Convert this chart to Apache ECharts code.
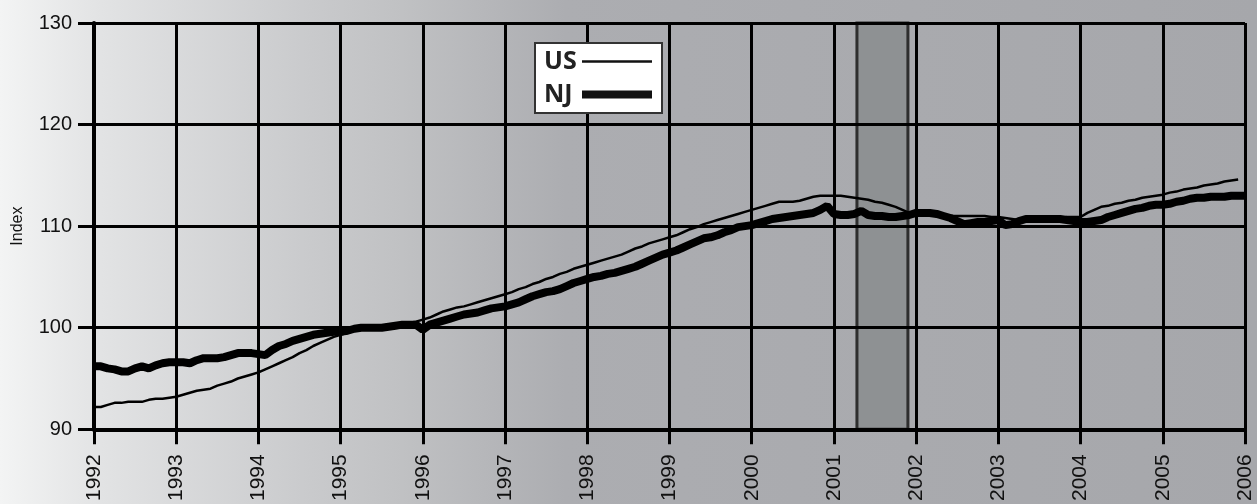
<!DOCTYPE html>
<html>
<head>
<meta charset="utf-8">
<script src="https://cdn.jsdelivr.net/npm/echarts@6/dist/echarts.min.js"></script>
<style>
  html, body { margin: 0; padding: 0; }
  #chart { width: 1257px; height: 504px; }
</style>
</head>
<body>
<div id="chart"></div>
<script>
// monthly index values, Jan 1992 onward
var usByYear = [
  [92.2, 92.2, 92.4, 92.6, 92.6, 92.7, 92.7, 92.7, 92.9, 93.0, 93.0, 93.1], // 1992
  [93.2, 93.4, 93.6, 93.8, 93.9, 94.0, 94.3, 94.5, 94.7, 95.0, 95.2, 95.4], // 1993
  [95.6, 95.9, 96.2, 96.5, 96.8, 97.1, 97.5, 97.8, 98.2, 98.5, 98.8, 99.1], // 1994
  [99.3, 99.5, 99.7, 99.9, 100.0, 100.1, 100.2, 100.3, 100.3, 100.4, 100.5, 100.6], // 1995
  [100.8, 101.0, 101.3, 101.6, 101.8, 102.0, 102.1, 102.3, 102.5, 102.7, 102.9, 103.1], // 1996
  [103.3, 103.5, 103.8, 104.0, 104.3, 104.5, 104.8, 105.0, 105.3, 105.5, 105.8, 106.0], // 1997
  [106.2, 106.4, 106.6, 106.8, 107.0, 107.2, 107.5, 107.8, 108.0, 108.3, 108.5, 108.7], // 1998
  [108.9, 109.1, 109.4, 109.7, 109.9, 110.2, 110.4, 110.6, 110.8, 111.0, 111.2, 111.4], // 1999
  [111.6, 111.8, 112.0, 112.2, 112.4, 112.4, 112.4, 112.5, 112.7, 112.9, 113.0, 113.0], // 2000
  [113.0, 113.0, 112.9, 112.8, 112.7, 112.6, 112.4, 112.3, 112.1, 111.9, 111.6, 111.3], // 2001
  [111.1, 111.1, 111.1, 111.0, 111.0, 111.0, 111.0, 111.0, 111.0, 111.0, 111.0, 110.9], // 2002
  [110.9, 110.8, 110.7, 110.6, 110.6, 110.6, 110.7, 110.7, 110.8, 110.8, 110.9, 110.9], // 2003
  [110.9, 111.3, 111.6, 111.9, 112.0, 112.2, 112.3, 112.5, 112.6, 112.8, 112.9, 113.0], // 2004
  [113.1, 113.3, 113.4, 113.6, 113.7, 113.8, 114.0, 114.1, 114.2, 114.4, 114.5, 114.6]  // 2005
];
var njByYear = [
  [96.2, 96.2, 96.0, 95.9, 95.7, 95.7, 96.0, 96.2, 96.0, 96.3, 96.5, 96.6],
  [96.6, 96.6, 96.5, 96.8, 97.0, 97.0, 97.0, 97.1, 97.3, 97.5, 97.5, 97.5],
  [97.4, 97.3, 97.8, 98.2, 98.4, 98.7, 98.9, 99.1, 99.3, 99.4, 99.5, 99.6],
  [99.6, 99.7, 99.9, 100.0, 100.0, 100.0, 100.0, 100.1, 100.2, 100.3, 100.3, 100.3],
  [99.8, 100.3, 100.5, 100.7, 100.9, 101.1, 101.3, 101.4, 101.5, 101.7, 101.9, 102.0],
  [102.1, 102.3, 102.5, 102.8, 103.1, 103.3, 103.5, 103.6, 103.8, 104.1, 104.4, 104.6],
  [104.8, 105.0, 105.1, 105.3, 105.4, 105.6, 105.8, 106.0, 106.3, 106.6, 106.9, 107.2],
  [107.4, 107.6, 107.9, 108.2, 108.5, 108.8, 108.9, 109.1, 109.4, 109.6, 109.9, 110.0],
  [110.1, 110.3, 110.5, 110.7, 110.8, 110.9, 111.0, 111.1, 111.2, 111.3, 111.6, 112.0],
  [111.2, 111.1, 111.1, 111.2, 111.5, 111.1, 111.0, 111.0, 110.9, 110.9, 111.0, 111.1],
  [111.3, 111.3, 111.3, 111.2, 111.0, 110.8, 110.5, 110.2, 110.3, 110.4, 110.4, 110.5],
  [110.6, 110.1, 110.2, 110.5, 110.7, 110.7, 110.7, 110.7, 110.7, 110.7, 110.6, 110.5],
  [110.4, 110.4, 110.5, 110.6, 110.9, 111.1, 111.3, 111.5, 111.7, 111.8, 112.0, 112.1],
  [112.1, 112.2, 112.4, 112.5, 112.7, 112.8, 112.8, 112.9, 112.9, 112.9, 113.0, 113.0],
  [113.0] // Jan 2006
];
var startYear = 1992;
var recession = [2001.28, 2001.9];   // Mar-Nov 2001
var yTicks = [90, 130, 10];          // min, max, step
var xYears = [1992, 2006];

function toPoints(byYear) {
  var pts = [];
  byYear.forEach(function (months, y) {
    months.forEach(function (v, m) {
      pts.push([startYear + y + m / 12, v]);
    });
  });
  return pts;
}

var chart = echarts.init(document.getElementById('chart'));
chart.setOption({
  animation: false,
  backgroundColor: {
    type: 'linear', x: 0, y: 0, x2: 1, y2: 0,
    colorStops: [
      { offset: 0, color: '#f3f4f4' },
      { offset: 0.08, color: '#e2e3e4' },
      { offset: 0.24, color: '#cacbcd' },
      { offset: 0.32, color: '#c0c1c3' },
      { offset: 0.45, color: '#acadb1' },
      { offset: 1, color: '#a6a7ab' }
    ]
  },
  grid: { left: 94, right: 12, top: 23, bottom: 74 },
  legend: {
    data: [
      { name: 'US', icon: 'path://M0 0H70V2.5H0Z' },
      { name: 'NJ', icon: 'path://M0 0H70V8H0Z' }
    ],
    symbolKeepAspect: true,
    orient: 'vertical',
    align: 'right',
    left: 535, top: 43,
    itemWidth: 70, itemHeight: 14, itemGap: 8,
    padding: [6, 10, 6, 9],
    backgroundColor: '#ffffff',
    borderColor: '#333333', borderWidth: 2, borderRadius: 0,
    itemStyle: { color: '#111' },
    formatter: '{t|{name}}',
    textStyle: {
      fontFamily: 'Open Sans', fontWeight: 'bold', fontSize: 25, color: '#222',
      rich: {
        t: { width: 33, align: 'left', fontFamily: 'Open Sans', fontWeight: 'bold', fontSize: 25, color: '#222' }
      }
    }
  },
  xAxis: {
    type: 'value', min: xYears[0], max: xYears[1], interval: 1, z: 1.5,
    axisLine: { lineStyle: { color: '#000', width: 4 } },
    axisTick: { length: 15, lineStyle: { color: '#000', width: 3 } },
    splitLine: { show: true, lineStyle: { color: '#000', width: 3 } },
    axisLabel: {
      rotate: 90, margin: 25,
      fontFamily: 'Liberation Sans', fontSize: 21, color: '#111',
      formatter: function (v) { return String(v); }
    }
  },
  yAxis: {
    type: 'value', min: yTicks[0], max: yTicks[1], interval: yTicks[2], z: 1.5,
    name: 'Index', nameLocation: 'middle', nameGap: 68, nameRotate: 90,
    nameTextStyle: { fontFamily: 'Liberation Sans', fontSize: 16, color: '#111' },
    axisLine: { show: true, lineStyle: { color: '#000', width: 4 } },
    axisTick: { show: true, length: 16, lineStyle: { color: '#000', width: 3 } },
    splitLine: { show: true, lineStyle: { color: '#000', width: 3 } },
    axisLabel: { margin: 22, fontFamily: 'Liberation Sans', fontSize: 20, color: '#111' }
  },
  series: [
    {
      name: 'recession', type: 'line', data: [], z: 1, silent: true,
      markArea: {
        silent: true,
        itemStyle: { color: '#8e9193', borderColor: '#2e2e2e', borderWidth: 3 },
        data: [[{ xAxis: recession[0], yAxis: yTicks[1] }, { xAxis: recession[1], yAxis: yTicks[0] }]]
      }
    },
    {
      name: 'US', type: 'line', data: toPoints(usByYear), z: 2,
      showSymbol: false, symbol: 'none',
      lineStyle: { color: '#000', width: 2.5 }, itemStyle: { color: '#000' }
    },
    {
      name: 'NJ', type: 'line', data: toPoints(njByYear), z: 2,
      showSymbol: false, symbol: 'none',
      lineStyle: { color: '#000', width: 8 }, itemStyle: { color: '#000' }
    }
  ]
});
</script>
</body>
</html>
